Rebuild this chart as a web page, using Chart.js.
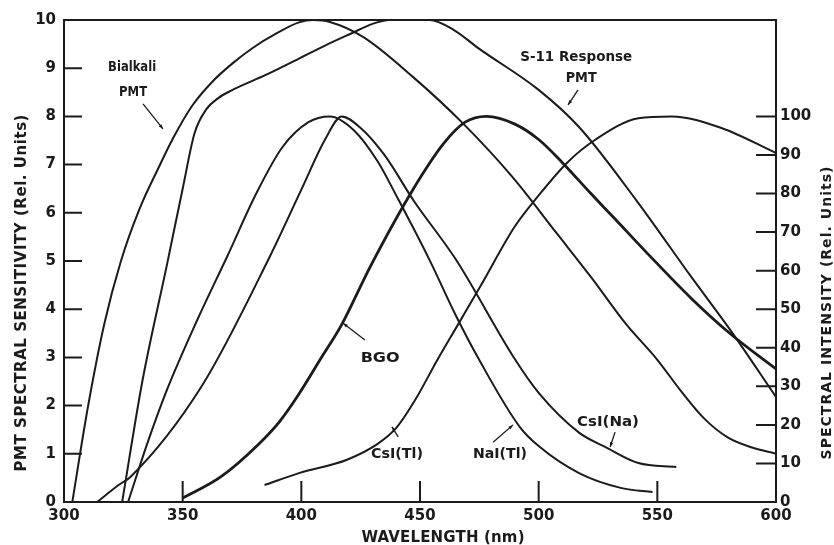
<!DOCTYPE html>
<html>
<head>
<meta charset="utf-8">
<script src="https://cdn.jsdelivr.net/npm/chart.js@4.4.1/dist/chart.umd.min.js"></script>
<style>
  html, body { margin: 0; padding: 0; background: #fff; }
</style>
</head>
<body>
<canvas id="spectra" width="834" height="545"></canvas>
<script>
// values: wavelength (nm) and relative value
// PMT curves use the left axis (0-10), scintillators the right axis (0-100)
const bialkaliNm  = [303.5, 310, 317, 324, 332, 340, 346, 354, 362.5, 371, 379.5, 389.5, 399, 405, 412, 426, 447, 468, 489, 508, 522, 536.5, 550, 560, 570, 580, 590, 600];
const bialkaliRel = [0, 1.95, 3.7, 5, 6.1, 6.95, 7.55, 8.22, 8.72, 9.1, 9.42, 9.72, 9.95, 10, 9.96, 9.65, 8.82, 7.86, 6.74, 5.55, 4.67, 3.71, 2.95, 2.3, 1.72, 1.33, 1.13, 1.0];

const s11Nm  = [324.5, 333, 343.5, 350, 355, 360, 365, 371, 385, 399, 410, 421, 430, 437, 454, 464, 475, 500, 517, 541, 564, 581, 600];
const s11Rel = [0, 2.5, 4.95, 6.5, 7.65, 8.15, 8.38, 8.55, 8.86, 9.2, 9.47, 9.72, 9.92, 10, 10, 9.8, 9.4, 8.55, 7.78, 6.27, 4.69, 3.55, 2.18];

const naiNm  = [327, 335, 343, 356, 369, 381, 392, 403, 412, 422, 432, 441, 454, 465, 475, 492, 500, 517, 535, 548];
const naiInt = [0, 15, 28.5, 47, 64, 80, 92, 98.5, 100, 96.5, 88.5, 78.3, 62.8, 48.5, 36.8, 19.5, 14.5, 7.5, 3.6, 2.6];

const csiNaNm  = [314, 323, 328, 358, 387, 400, 410, 417, 425, 435, 447.5, 465, 490, 500, 517, 528, 542, 558];
const csiNaInt = [0, 4.4, 6.5, 30, 64, 81, 94, 100, 97, 90, 78, 63, 37, 28.3, 18, 14.3, 10.1, 9.1];

const bgoNm  = [350, 366, 382, 391, 399, 408, 417, 429, 447, 460, 469, 478, 490, 500, 510, 522, 532, 545, 564, 581, 600];
const bgoInt = [1, 6.5, 15, 21, 28, 37, 46, 61, 81, 93, 98.5, 100, 98, 94, 88, 80, 73.5, 65, 53, 43.5, 34.5];

const csiTlNm  = [384.5, 399, 419, 432, 440, 448, 457, 466, 475.5, 490, 500, 512, 524, 542, 556, 577, 600];
const csiTlInt = [4.4, 7.5, 10.9, 15, 19.2, 26.5, 36.5, 46, 56, 71.5, 79.5, 88, 94, 99.5, 100, 97, 90.5];

const wavelengthTicks = [300, 350, 400, 450, 500, 550, 600];
const sensitivityTicks = [0, 1, 2, 3, 4, 5, 6, 7, 8, 9, 10];
const intensityTicks = [0, 10, 20, 30, 40, 50, 60, 70, 80, 90, 100];

// curve labels, placed in data units (nm, left axis value), with the width they span
const notes = [
  { text: 'Bialkali', at: [328.7, 9.02], w: 48 },
  { text: 'PMT', at: [329.1, 8.49], w: 28, arrow: [[333.3, 8.26], [341.7, 7.74]] },
  { text: 'S-11 Response', at: [515.8, 9.23], w: 112 },
  { text: 'PMT', at: [517.9, 8.78], w: 31, arrow: [[516.6, 8.55], [512.4, 8.24]] },
  { text: 'BGO', at: [433.2, 2.99], w: 39, arrow: [[426.8, 3.36], [417.6, 3.71]] },
  { text: 'CsI(Tl)', at: [440.3, 0.98], w: 52, arrow: [[440.8, 1.35], [438.2, 1.56]] },
  { text: 'NaI(Tl)', at: [483.7, 0.98], w: 54, arrow: [[480.8, 1.24], [489.2, 1.6]] },
  { text: 'CsI(Na)', at: [529.2, 1.66], w: 62, arrow: [[532.2, 1.45], [530.1, 1.14]] }
];

const INK = '#1b1b1b';

function curve(label, xs, ys, axis, width) {
  return {
    label: label,
    data: xs.map((x, i) => ({ x: x, y: ys[i] })),
    yAxisID: axis,
    borderColor: INK,
    borderWidth: width,
    pointRadius: 0,
    cubicInterpolationMode: 'monotone',
    fill: false
  };
}

function fixTicks(list) {
  return scale => { scale.ticks = list.map(v => ({ value: v })); };
}

// spread text to a given width with letter spacing
function spacedText(ctx, text, x, y, width, rot) {
  ctx.save();
  ctx.translate(x, y);
  ctx.rotate(rot);
  ctx.letterSpacing = '0px';
  const w = ctx.measureText(text).width;
  const ls = (width - w) / Math.max(1, text.length - 1);
  ctx.letterSpacing = ls.toFixed(2) + 'px';
  ctx.textAlign = 'center';
  ctx.textBaseline = 'middle';
  ctx.fillText(text, ls / 2, 0);
  ctx.restore();
}

// squeeze/stretch text horizontally to a given width
function fitText(ctx, text, x, y, width) {
  ctx.save();
  ctx.letterSpacing = '0px';
  const w = ctx.measureText(text).width;
  ctx.translate(x, y);
  ctx.scale(width / w, 1);
  ctx.textAlign = 'center';
  ctx.textBaseline = 'middle';
  ctx.fillText(text, 0, 0);
  ctx.restore();
}

const framePlugin = {
  id: 'frame',
  afterDraw(chart) {
    const ctx = chart.ctx;
    const { left, right, top, bottom } = chart.chartArea;
    const sx = chart.scales.x, sy = chart.scales.y, sy2 = chart.scales.y2;
    ctx.save();
    ctx.strokeStyle = INK;
    ctx.fillStyle = INK;
    ctx.lineWidth = 2;
    ctx.strokeRect(left, top, right - left, bottom - top);

    // tick marks point into the plot
    ctx.beginPath();
    sensitivityTicks.forEach(v => {
      const p = sy.getPixelForValue(v);
      ctx.moveTo(left, p); ctx.lineTo(left + 18, p);
    });
    intensityTicks.forEach(v => {
      const p = sy2.getPixelForValue(v);
      ctx.moveTo(right - 20, p); ctx.lineTo(right, p);
    });
    wavelengthTicks.forEach(v => {
      const p = sx.getPixelForValue(v);
      ctx.moveTo(p, bottom); ctx.lineTo(p, bottom - 21);
    });
    ctx.stroke();

    // curve labels and pointers
    ctx.font = 'bold 14px "DejaVu Sans"';
    ctx.lineWidth = 1.3;
    notes.forEach(n => {
      fitText(ctx, n.text, sx.getPixelForValue(n.at[0]), sy.getPixelForValue(n.at[1]), n.w);
      if (!n.arrow) return;
      const x0 = sx.getPixelForValue(n.arrow[0][0]), y0 = sy.getPixelForValue(n.arrow[0][1]);
      const x1 = sx.getPixelForValue(n.arrow[1][0]), y1 = sy.getPixelForValue(n.arrow[1][1]);
      ctx.beginPath();
      ctx.moveTo(x0, y0); ctx.lineTo(x1, y1);
      ctx.stroke();
      const a = Math.atan2(y1 - y0, x1 - x0);
      ctx.beginPath();
      ctx.moveTo(x1, y1);
      ctx.lineTo(x1 - 5 * Math.cos(a - 0.35), y1 - 5 * Math.sin(a - 0.35));
      ctx.lineTo(x1 - 5 * Math.cos(a + 0.35), y1 - 5 * Math.sin(a + 0.35));
      ctx.closePath();
      ctx.fill();
    });

    // axis titles
    ctx.font = 'bold 15px "DejaVu Sans"';
    spacedText(ctx, 'PMT SPECTRAL SENSITIVITY (Rel. Units)', 22, 293, 357, -Math.PI / 2);
    ctx.font = 'bold 14px "DejaVu Sans"';
    spacedText(ctx, 'SPECTRAL INTENSITY (Rel. Units)', 827, 313, 293, -Math.PI / 2);
    ctx.font = 'bold 15px "DejaVu Sans"';
    spacedText(ctx, 'WAVELENGTH (nm)', 443, 538, 163, 0);
    ctx.restore();
  }
};

const tickFont = { family: 'DejaVu Sans', size: 15, weight: 'bold' };

new Chart(document.getElementById('spectra'), {
  type: 'line',
  data: {
    datasets: [
      curve('Bialkali PMT', bialkaliNm, bialkaliRel, 'y', 2),
      curve('S-11 Response PMT', s11Nm, s11Rel, 'y', 2),
      curve('NaI(Tl)', naiNm, naiInt, 'y2', 2),
      curve('CsI(Na)', csiNaNm, csiNaInt, 'y2', 2),
      curve('BGO', bgoNm, bgoInt, 'y2', 2.8),
      curve('CsI(Tl)', csiTlNm, csiTlInt, 'y2', 2)
    ]
  },
  options: {
    responsive: false,
    animation: false,
    devicePixelRatio: 1,
    layout: { padding: { top: 20, left: 0, right: 0, bottom: 0 } },
    plugins: { legend: { display: false }, tooltip: { enabled: false } },
    scales: {
      x: {
        type: 'linear',
        min: 300,
        max: 600,
        afterBuildTicks: fixTicks(wavelengthTicks),
        afterFit: s => { s.height = 43; },
        grid: { display: false, drawTicks: false },
        border: { display: false },
        ticks: { font: tickFont, color: INK, padding: 5, maxRotation: 0, autoSkip: false }
      },
      y: {
        position: 'left',
        min: 0,
        max: 10,
        afterBuildTicks: fixTicks(sensitivityTicks),
        afterFit: s => { s.width = 64; },
        grid: { display: false, drawTicks: false },
        border: { display: false },
        ticks: { font: tickFont, color: INK, padding: 8 }
      },
      y2: {
        position: 'right',
        min: 0,
        max: 125,
        afterBuildTicks: fixTicks(intensityTicks),
        afterFit: s => { s.width = 58; },
        grid: { display: false, drawTicks: false },
        border: { display: false },
        ticks: { font: tickFont, color: INK, padding: 4 }
      }
    }
  },
  plugins: [framePlugin]
});
</script>
</body>
</html>
